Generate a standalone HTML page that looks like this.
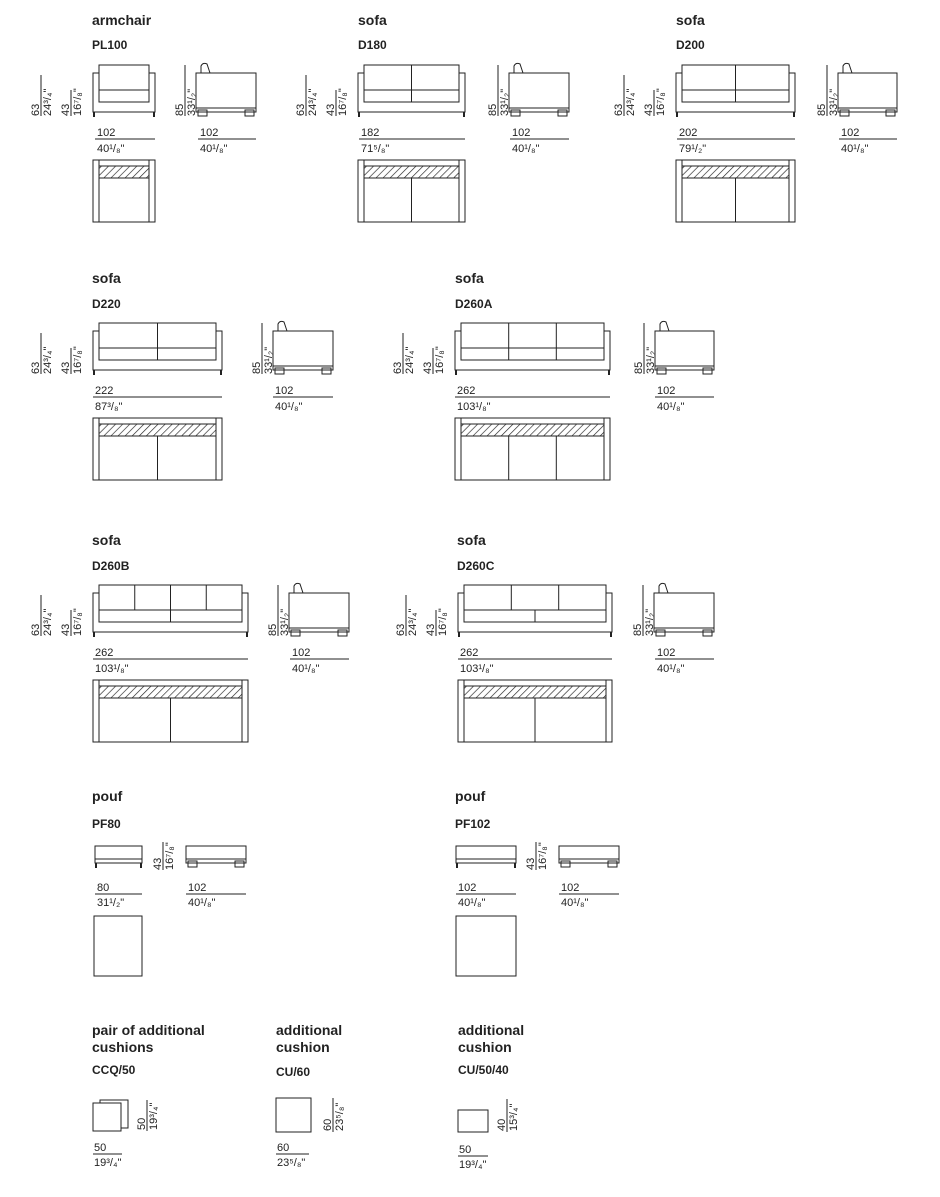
<!DOCTYPE html>
<html><head><meta charset="utf-8"><style>
html,body{margin:0;padding:0;background:#fff}
svg{display:block}
.s{fill:none;stroke:#222;stroke-width:1}
.t{font-family:"Liberation Sans",Arial,sans-serif;font-weight:bold;fill:#222}
.d{font-family:"Liberation Sans",Arial,sans-serif;font-size:11px;fill:#222}
.h{fill:url(#hatch);stroke:#222;stroke-width:1}
</style></head><body>
<svg width="940" height="1197" viewBox="0 0 940 1197" xmlns="http://www.w3.org/2000/svg">
<defs>
<pattern id="hatch" width="5" height="5" patternUnits="userSpaceOnUse" patternTransform="rotate(45)">
<line x1="0" y1="0" x2="0" y2="5" stroke="#222" stroke-width="1.3"/></pattern>
</defs>

<!-- ===== ROW 1 ===== -->
<text class="t" x="92" y="25" font-size="14">armchair</text>
<text class="t" x="92" y="49" font-size="12">PL100</text>
<text class="t" x="358" y="25" font-size="14">sofa</text>
<text class="t" x="358" y="49" font-size="12">D180</text>
<text class="t" x="676" y="25" font-size="14">sofa</text>
<text class="t" x="676" y="49" font-size="12">D200</text>

<!-- generic front: armchair X=93 W=62 -->
<g transform="translate(93,0)">
<rect class="s" x="0" y="73" width="62" height="39"/>
<rect class="s" x="6" y="65" width="50" height="27" fill="#fff" style="fill:#fff"/>
<rect class="s" x="6" y="90" width="50" height="12" stroke-width="1.6" style="fill:#fff"/>
<rect x="0" y="112" width="2" height="5" fill="#222"/><rect x="60" y="112" width="2" height="5" fill="#222"/>
</g>
<g transform="translate(358,0)">
<rect class="s" x="0" y="73" width="107" height="39"/>
<rect class="s" x="6" y="65" width="95" height="27" style="fill:#fff"/>
<rect class="s" x="6" y="90" width="95" height="12" stroke-width="1.6" style="fill:#fff"/>
<line class="s" x1="53.5" y1="65" x2="53.5" y2="102"/>
<rect x="0" y="112" width="2" height="5" fill="#222"/><rect x="105" y="112" width="2" height="5" fill="#222"/>
</g>
<g transform="translate(676,0)">
<rect class="s" x="0" y="73" width="119" height="39"/>
<rect class="s" x="6" y="65" width="107" height="27" style="fill:#fff"/>
<rect class="s" x="6" y="90" width="107" height="12" style="fill:#fff"/>
<line class="s" x1="59.5" y1="65" x2="59.5" y2="102"/>
<rect x="0" y="112" width="2" height="5" fill="#222"/><rect x="117" y="112" width="2" height="5" fill="#222"/>
</g>

<!-- vertical dims row1 -->
<g id="vd1">
<line class="s" x1="41" y1="75" x2="41" y2="116"/>
<text class="d" transform="translate(39,116) rotate(-90)">63</text>
<text class="d" transform="translate(51,116) rotate(-90)">24³/₄"</text>
<line class="s" x1="71" y1="90" x2="71" y2="116"/>
<text class="d" transform="translate(69,116) rotate(-90)">43</text>
<text class="d" transform="translate(81,116) rotate(-90)">16⁷/₈"</text>
</g>
<g transform="translate(265,0)">
<line class="s" x1="41" y1="75" x2="41" y2="116"/>
<text class="d" transform="translate(39,116) rotate(-90)">63</text>
<text class="d" transform="translate(51,116) rotate(-90)">24³/₄"</text>
<line class="s" x1="71" y1="90" x2="71" y2="116"/>
<text class="d" transform="translate(69,116) rotate(-90)">43</text>
<text class="d" transform="translate(81,116) rotate(-90)">16⁷/₈"</text>
</g>
<g transform="translate(583,0)">
<line class="s" x1="41" y1="75" x2="41" y2="116"/>
<text class="d" transform="translate(39,116) rotate(-90)">63</text>
<text class="d" transform="translate(51,116) rotate(-90)">24³/₄"</text>
<line class="s" x1="71" y1="90" x2="71" y2="116"/>
<text class="d" transform="translate(69,116) rotate(-90)">43</text>
<text class="d" transform="translate(81,116) rotate(-90)">16⁷/₈"</text>
</g>

<!-- side views row1 -->
<g transform="translate(196,0)">
<line class="s" x1="-11" y1="65" x2="-11" y2="116"/>
<text class="d" transform="translate(-13,116) rotate(-90)">85</text>
<text class="d" transform="translate(-1,116) rotate(-90)">33¹/₂"</text>
<rect class="s" x="0" y="73" width="60" height="39"/>
<path class="s" d="M5,73 L5,66 Q7,62 11,64 L14,73"/>
<line class="s" x1="0" y1="108" x2="60" y2="108" stroke-width="2"/>
<rect class="s" x="2" y="110" width="9" height="6"/><rect class="s" x="49" y="110" width="9" height="6"/>
</g>
<g transform="translate(509,0)">
<line class="s" x1="-11" y1="65" x2="-11" y2="116"/>
<text class="d" transform="translate(-13,116) rotate(-90)">85</text>
<text class="d" transform="translate(-1,116) rotate(-90)">33¹/₂"</text>
<rect class="s" x="0" y="73" width="60" height="39"/>
<path class="s" d="M5,73 L5,66 Q7,62 11,64 L14,73"/>
<line class="s" x1="0" y1="108" x2="60" y2="108" stroke-width="2"/>
<rect class="s" x="2" y="110" width="9" height="6"/><rect class="s" x="49" y="110" width="9" height="6"/>
</g>
<g transform="translate(838,0)">
<line class="s" x1="-11" y1="65" x2="-11" y2="116"/>
<text class="d" transform="translate(-13,116) rotate(-90)">85</text>
<text class="d" transform="translate(-1,116) rotate(-90)">33¹/₂"</text>
<rect class="s" x="0" y="73" width="59" height="39"/>
<path class="s" d="M5,73 L5,66 Q7,62 11,64 L14,73"/>
<line class="s" x1="0" y1="108" x2="59" y2="108" stroke-width="2"/>
<rect class="s" x="2" y="110" width="9" height="6"/><rect class="s" x="48" y="110" width="9" height="6"/>
</g>

<!-- bottom dims row1 -->
<text class="d" x="97" y="136">102</text><line class="s" x1="95" y1="139" x2="155" y2="139"/><text class="d" x="97" y="152">40¹/₈"</text>
<text class="d" x="200" y="136">102</text><line class="s" x1="198" y1="139" x2="256" y2="139"/><text class="d" x="200" y="152">40¹/₈"</text>
<text class="d" x="361" y="136">182</text><line class="s" x1="359" y1="139" x2="465" y2="139"/><text class="d" x="361" y="152">71⁵/₈"</text>
<text class="d" x="512" y="136">102</text><line class="s" x1="510" y1="139" x2="569" y2="139"/><text class="d" x="512" y="152">40¹/₈"</text>
<text class="d" x="679" y="136">202</text><line class="s" x1="677" y1="139" x2="795" y2="139"/><text class="d" x="679" y="152">79¹/₂"</text>
<text class="d" x="841" y="136">102</text><line class="s" x1="839" y1="139" x2="897" y2="139"/><text class="d" x="841" y="152">40¹/₈"</text>

<!-- top views row1 -->
<g transform="translate(93,160)">
<rect class="s" x="0" y="0" width="62" height="62"/>
<line class="s" x1="6" y1="0" x2="6" y2="62"/><line class="s" x1="56" y1="0" x2="56" y2="62"/>
<rect class="h" x="6" y="6" width="50" height="12"/>
</g>
<g transform="translate(358,160)">
<rect class="s" x="0" y="0" width="107" height="62"/>
<line class="s" x1="6" y1="0" x2="6" y2="62"/><line class="s" x1="101" y1="0" x2="101" y2="62" stroke-width="2"/>
<rect class="h" x="6" y="6" width="95" height="12"/>
<line class="s" x1="53.5" y1="18" x2="53.5" y2="62"/>
</g>
<g transform="translate(676,160)">
<rect class="s" x="0" y="0" width="119" height="62" stroke-width="2"/>
<line class="s" x1="6" y1="0" x2="6" y2="62"/><line class="s" x1="113" y1="0" x2="113" y2="62"/>
<rect class="h" x="6" y="6" width="107" height="12"/>
<line class="s" x1="59.5" y1="18" x2="59.5" y2="62"/>
</g>

<!-- ===== ROW 2 ===== -->
<text class="t" x="92" y="283" font-size="14">sofa</text>
<text class="t" x="92" y="308" font-size="12">D220</text>
<text class="t" x="455" y="283" font-size="14">sofa</text>
<text class="t" x="455" y="308" font-size="12">D260A</text>

<g transform="translate(93,258)">
<rect class="s" x="0" y="73" width="129" height="39"/>
<rect class="s" x="6" y="65" width="117" height="27" style="fill:#fff"/>
<rect class="s" x="6" y="90" width="117" height="12" style="fill:#fff"/>
<line class="s" x1="64.5" y1="65" x2="64.5" y2="102"/>
<rect x="0" y="112" width="2" height="5" fill="#222"/><rect x="127" y="112" width="2" height="5" fill="#222"/>
</g>
<g transform="translate(455,258)">
<rect class="s" x="0" y="73" width="155" height="39"/>
<rect class="s" x="6" y="65" width="143" height="27" style="fill:#fff"/>
<rect class="s" x="6" y="90" width="143" height="12" stroke-width="1.6" style="fill:#fff"/>
<line class="s" x1="53.7" y1="65" x2="53.7" y2="102"/><line class="s" x1="101.3" y1="65" x2="101.3" y2="102"/>
<rect x="0" y="112" width="2" height="5" fill="#222"/><rect x="153" y="112" width="2" height="5" fill="#222"/>
</g>
<g transform="translate(0,258)">
<line class="s" x1="41" y1="75" x2="41" y2="116"/>
<text class="d" transform="translate(39,116) rotate(-90)">63</text>
<text class="d" transform="translate(51,116) rotate(-90)">24³/₄"</text>
<line class="s" x1="71" y1="90" x2="71" y2="116"/>
<text class="d" transform="translate(69,116) rotate(-90)">43</text>
<text class="d" transform="translate(81,116) rotate(-90)">16⁷/₈"</text>
</g>
<g transform="translate(362,258)">
<line class="s" x1="41" y1="75" x2="41" y2="116"/>
<text class="d" transform="translate(39,116) rotate(-90)">63</text>
<text class="d" transform="translate(51,116) rotate(-90)">24³/₄"</text>
<line class="s" x1="71" y1="90" x2="71" y2="116"/>
<text class="d" transform="translate(69,116) rotate(-90)">43</text>
<text class="d" transform="translate(81,116) rotate(-90)">16⁷/₈"</text>
</g>
<g transform="translate(273,258)">
<line class="s" x1="-11" y1="65" x2="-11" y2="116"/>
<text class="d" transform="translate(-13,116) rotate(-90)">85</text>
<text class="d" transform="translate(-1,116) rotate(-90)">33¹/₂"</text>
<rect class="s" x="0" y="73" width="60" height="39"/>
<path class="s" d="M5,73 L5,66 Q7,62 11,64 L14,73"/>
<line class="s" x1="0" y1="108" x2="60" y2="108" stroke-width="2"/>
<rect class="s" x="2" y="110" width="9" height="6"/><rect class="s" x="49" y="110" width="9" height="6"/>
</g>
<g transform="translate(655,258)">
<line class="s" x1="-11" y1="65" x2="-11" y2="116"/>
<text class="d" transform="translate(-13,116) rotate(-90)">85</text>
<text class="d" transform="translate(-1,116) rotate(-90)">33¹/₂"</text>
<rect class="s" x="0" y="73" width="59" height="39"/>
<path class="s" d="M5,73 L5,66 Q7,62 11,64 L14,73"/>
<line class="s" x1="0" y1="108" x2="59" y2="108" stroke-width="2"/>
<rect class="s" x="2" y="110" width="9" height="6"/><rect class="s" x="48" y="110" width="9" height="6"/>
</g>
<text class="d" x="95" y="394">222</text><line class="s" x1="93" y1="397" x2="222" y2="397"/><text class="d" x="95" y="410">87³/₈"</text>
<text class="d" x="275" y="394">102</text><line class="s" x1="273" y1="397" x2="333" y2="397"/><text class="d" x="275" y="410">40¹/₈"</text>
<text class="d" x="457" y="394">262</text><line class="s" x1="455" y1="397" x2="610" y2="397"/><text class="d" x="457" y="410">103¹/₈"</text>
<text class="d" x="657" y="394">102</text><line class="s" x1="655" y1="397" x2="714" y2="397"/><text class="d" x="657" y="410">40¹/₈"</text>

<g transform="translate(93,418)">
<rect class="s" x="0" y="0" width="129" height="62"/>
<line class="s" x1="6" y1="0" x2="6" y2="62"/><line class="s" x1="123" y1="0" x2="123" y2="62"/>
<rect class="h" x="6" y="6" width="117" height="12"/>
<line class="s" x1="64.5" y1="18" x2="64.5" y2="62"/>
</g>
<g transform="translate(455,418)">
<rect class="s" x="0" y="0" width="155" height="62"/>
<line class="s" x1="6" y1="0" x2="6" y2="62"/><line class="s" x1="149" y1="0" x2="149" y2="62"/>
<rect class="h" x="6" y="6" width="143" height="12"/>
<line class="s" x1="53.7" y1="18" x2="53.7" y2="62"/><line class="s" x1="101.3" y1="18" x2="101.3" y2="62"/>
</g>

<!-- ===== ROW 3 ===== -->
<text class="t" x="92" y="545" font-size="14">sofa</text>
<text class="t" x="92" y="570" font-size="12">D260B</text>
<text class="t" x="457" y="545" font-size="14">sofa</text>
<text class="t" x="457" y="570" font-size="12">D260C</text>

<g transform="translate(93,520)">
<rect class="s" x="0" y="73" width="155" height="39"/>
<rect class="s" x="6" y="65" width="143" height="27" style="fill:#fff"/>
<rect class="s" x="6" y="90" width="143" height="12" style="fill:#fff"/>
<line class="s" x1="41.75" y1="65" x2="41.75" y2="90"/><line class="s" x1="77.5" y1="65" x2="77.5" y2="102"/><line class="s" x1="113.25" y1="65" x2="113.25" y2="90"/>
<rect x="0" y="112" width="2" height="5" fill="#222"/><rect x="153" y="112" width="2" height="5" fill="#222"/>
</g>
<g transform="translate(458,520)">
<rect class="s" x="0" y="73" width="154" height="39"/>
<rect class="s" x="6" y="65" width="142" height="27" style="fill:#fff"/>
<rect class="s" x="6" y="90" width="142" height="12" style="fill:#fff"/>
<line class="s" x1="53.3" y1="65" x2="53.3" y2="90"/><line class="s" x1="100.7" y1="65" x2="100.7" y2="90"/><line class="s" x1="77" y1="90" x2="77" y2="102"/>
<rect x="0" y="112" width="2" height="5" fill="#222"/><rect x="152" y="112" width="2" height="5" fill="#222"/>
</g>
<g transform="translate(0,520)">
<line class="s" x1="41" y1="75" x2="41" y2="116"/>
<text class="d" transform="translate(39,116) rotate(-90)">63</text>
<text class="d" transform="translate(51,116) rotate(-90)">24³/₄"</text>
<line class="s" x1="71" y1="90" x2="71" y2="116"/>
<text class="d" transform="translate(69,116) rotate(-90)">43</text>
<text class="d" transform="translate(81,116) rotate(-90)">16⁷/₈"</text>
</g>
<g transform="translate(365,520)">
<line class="s" x1="41" y1="75" x2="41" y2="116"/>
<text class="d" transform="translate(39,116) rotate(-90)">63</text>
<text class="d" transform="translate(51,116) rotate(-90)">24³/₄"</text>
<line class="s" x1="71" y1="90" x2="71" y2="116"/>
<text class="d" transform="translate(69,116) rotate(-90)">43</text>
<text class="d" transform="translate(81,116) rotate(-90)">16⁷/₈"</text>
</g>
<g transform="translate(289,520)">
<line class="s" x1="-11" y1="65" x2="-11" y2="116"/>
<text class="d" transform="translate(-13,116) rotate(-90)">85</text>
<text class="d" transform="translate(-1,116) rotate(-90)">33¹/₂"</text>
<rect class="s" x="0" y="73" width="60" height="39"/>
<path class="s" d="M5,73 L5,66 Q7,62 11,64 L14,73"/>
<line class="s" x1="0" y1="108" x2="60" y2="108" stroke-width="2"/>
<rect class="s" x="2" y="110" width="9" height="6"/><rect class="s" x="49" y="110" width="9" height="6"/>
</g>
<g transform="translate(654,520)">
<line class="s" x1="-11" y1="65" x2="-11" y2="116"/>
<text class="d" transform="translate(-13,116) rotate(-90)">85</text>
<text class="d" transform="translate(-1,116) rotate(-90)">33¹/₂"</text>
<rect class="s" x="0" y="73" width="60" height="39"/>
<path class="s" d="M5,73 L5,66 Q7,62 11,64 L14,73"/>
<line class="s" x1="0" y1="108" x2="60" y2="108" stroke-width="2"/>
<rect class="s" x="2" y="110" width="9" height="6"/><rect class="s" x="49" y="110" width="9" height="6"/>
</g>
<text class="d" x="95" y="656">262</text><line class="s" x1="93" y1="659" x2="248" y2="659"/><text class="d" x="95" y="672">103¹/₈"</text>
<text class="d" x="292" y="656">102</text><line class="s" x1="290" y1="659" x2="349" y2="659"/><text class="d" x="292" y="672">40¹/₈"</text>
<text class="d" x="460" y="656">262</text><line class="s" x1="458" y1="659" x2="612" y2="659"/><text class="d" x="460" y="672">103¹/₈"</text>
<text class="d" x="657" y="656">102</text><line class="s" x1="655" y1="659" x2="714" y2="659"/><text class="d" x="657" y="672">40¹/₈"</text>

<g transform="translate(93,680)">
<rect class="s" x="0" y="0" width="155" height="62"/>
<line class="s" x1="6" y1="0" x2="6" y2="62"/><line class="s" x1="149" y1="0" x2="149" y2="62"/>
<rect class="h" x="6" y="6" width="143" height="12"/>
<line class="s" x1="77.5" y1="18" x2="77.5" y2="62"/>
</g>
<g transform="translate(458,680)">
<rect class="s" x="0" y="0" width="154" height="62"/>
<line class="s" x1="6" y1="0" x2="6" y2="62"/><line class="s" x1="148" y1="0" x2="148" y2="62"/>
<rect class="h" x="6" y="6" width="142" height="12"/>
<line class="s" x1="77" y1="18" x2="77" y2="62"/>
</g>

<!-- ===== POUFS ===== -->
<text class="t" x="92" y="801" font-size="14">pouf</text>
<text class="t" x="92" y="828" font-size="12">PF80</text>
<text class="t" x="455" y="801" font-size="14">pouf</text>
<text class="t" x="455" y="828" font-size="12">PF102</text>

<g transform="translate(95,846)">
<rect class="s" x="0" y="0" width="47" height="17"/>
<line class="s" x1="0" y1="13" x2="47" y2="13"/>
<rect x="0" y="17" width="2" height="5" fill="#222"/><rect x="45" y="17" width="2" height="5" fill="#222"/>
</g>
<line class="s" x1="163" y1="842" x2="163" y2="870"/>
<text class="d" transform="translate(161,870) rotate(-90)">43</text>
<text class="d" transform="translate(173,870) rotate(-90)">16⁷/₈"</text>
<g transform="translate(186,846)">
<rect class="s" x="0" y="0" width="60" height="17"/>
<line class="s" x1="0" y1="13" x2="60" y2="13" stroke-width="2"/>
<rect class="s" x="2" y="15" width="9" height="6"/><rect class="s" x="49" y="15" width="9" height="6"/>
</g>
<text class="d" x="97" y="891">80</text><line class="s" x1="95" y1="894" x2="142" y2="894"/><text class="d" x="97" y="906">31¹/₂"</text>
<text class="d" x="188" y="891">102</text><line class="s" x1="186" y1="894" x2="246" y2="894"/><text class="d" x="188" y="906">40¹/₈"</text>
<rect class="s" x="94" y="916" width="48" height="60"/>

<g transform="translate(456,846)">
<rect class="s" x="0" y="0" width="60" height="17"/>
<line class="s" x1="0" y1="13" x2="60" y2="13"/>
<rect x="0" y="17" width="2" height="5" fill="#222"/><rect x="58" y="17" width="2" height="5" fill="#222"/>
</g>
<line class="s" x1="536" y1="842" x2="536" y2="870"/>
<text class="d" transform="translate(534,870) rotate(-90)">43</text>
<text class="d" transform="translate(546,870) rotate(-90)">16⁷/₈"</text>
<g transform="translate(559,846)">
<rect class="s" x="0" y="0" width="60" height="17"/>
<line class="s" x1="0" y1="13" x2="60" y2="13" stroke-width="2"/>
<rect class="s" x="2" y="15" width="9" height="6"/><rect class="s" x="49" y="15" width="9" height="6"/>
</g>
<text class="d" x="458" y="891">102</text><line class="s" x1="456" y1="894" x2="516" y2="894"/><text class="d" x="458" y="906">40¹/₈"</text>
<text class="d" x="561" y="891">102</text><line class="s" x1="559" y1="894" x2="619" y2="894"/><text class="d" x="561" y="906">40¹/₈"</text>
<rect class="s" x="456" y="916" width="60" height="60"/>

<!-- ===== CUSHIONS ===== -->
<text class="t" x="92" y="1035" font-size="14">pair of additional</text>
<text class="t" x="92" y="1052" font-size="14">cushions</text>
<text class="t" x="92" y="1074" font-size="12">CCQ/50</text>
<text class="t" x="276" y="1035" font-size="14">additional</text>
<text class="t" x="276" y="1052" font-size="14">cushion</text>
<text class="t" x="276" y="1076" font-size="12">CU/60</text>
<text class="t" x="458" y="1035" font-size="14">additional</text>
<text class="t" x="458" y="1052" font-size="14">cushion</text>
<text class="t" x="458" y="1074" font-size="12">CU/50/40</text>

<rect class="s" x="100" y="1100" width="28" height="28"/>
<rect class="s" x="93" y="1103" width="28" height="28" style="fill:#fff"/>
<line class="s" x1="147" y1="1100" x2="147" y2="1131"/>
<text class="d" transform="translate(145,1130) rotate(-90)">50</text>
<text class="d" transform="translate(157,1130) rotate(-90)">19³/₄"</text>
<text class="d" x="94" y="1151">50</text><line class="s" x1="93" y1="1154" x2="122" y2="1154"/><text class="d" x="94" y="1166">19³/₄"</text>

<rect class="s" x="276" y="1098" width="35" height="34"/>
<line class="s" x1="333" y1="1098" x2="333" y2="1132"/>
<text class="d" transform="translate(331,1131) rotate(-90)">60</text>
<text class="d" transform="translate(343,1131) rotate(-90)">23⁵/₈"</text>
<text class="d" x="277" y="1151">60</text><line class="s" x1="276" y1="1154" x2="309" y2="1154"/><text class="d" x="277" y="1166">23⁵/₈"</text>

<rect class="s" x="458" y="1110" width="30" height="22"/>
<line class="s" x1="507" y1="1099" x2="507" y2="1132"/>
<text class="d" transform="translate(505,1131) rotate(-90)">40</text>
<text class="d" transform="translate(517,1131) rotate(-90)">15³/₄"</text>
<text class="d" x="459" y="1153">50</text><line class="s" x1="458" y1="1156" x2="488" y2="1156"/><text class="d" x="459" y="1168">19³/₄"</text>
</svg>
</body></html>
